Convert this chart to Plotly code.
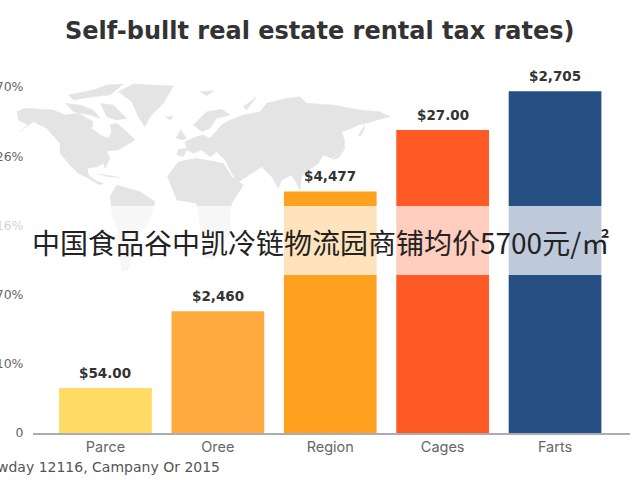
import plotly.graph_objects as go

categories = ["Parce", "Oree", "Region", "Cages", "Farts"]
values = [6.5, 17.6, 34.9, 43.8, 49.4]
value_labels = ["$54.00", "$2,460", "$4,477", "$27.00", "$2,705"]
bar_colors = ["#FFDB66", "#FFAB40", "#FFA01E", "#FF5A26", "#264F83"]
tick_vals = [0, 10, 20, 30, 40, 50]
tick_text = ["0", "10%", "70%", "16%", "26%", "70%"]

title_text = "Self-bullt real estate rental tax rates)"
overlay_text = "中国食品谷中凯冷链物流园商铺均价5700元/㎡"
source_text = "wday 12116, Campany Or 2015"

# Background world map outlines: (west group, east group), in map units
west_map = {
    "north_america": ([20, 45, 90, 130, 165, 205, 250, 245, 270, 295, 305, 300, 320, 350, 375, 350, 325, 290, 300, 285, 280, 262, 232, 235, 262, 280, 268, 235, 205, 180, 150, 150, 110, 70, 30, 55, 25],
                      [125, 115, 118, 120, 135, 130, 155, 175, 195, 205, 185, 165, 160, 185, 210, 225, 240, 243, 265, 295, 280, 290, 295, 315, 335, 340, 345, 325, 310, 285, 250, 220, 175, 155, 185, 165, 150]),
    "arctic_a": ([165, 210, 250, 270, 240, 190], [100, 105, 120, 145, 135, 125]),
    "arctic_b": ([175, 250, 290, 340, 300, 250, 190], [75, 60, 45, 42, 75, 80, 90]),
    "arctic_c": ([270, 310, 350, 320, 290], [100, 105, 145, 150, 140]),
    "greenland": ([325, 370, 490, 460, 420, 405, 385, 365], [65, 42, 48, 100, 140, 170, 140, 95]),
    "iceland": ([465, 490, 480], [140, 140, 150]),
    "cuba": ([265, 330, 290], [312, 322, 320]),
    "south_america": ([300, 320, 390, 435, 420, 390, 355, 335, 325, 305], [380, 345, 365, 395, 450, 490, 600, 605, 490, 430]),
}
east_map = {
    "eurasia": ([50, 55, 80, 75, 110, 130, 150, 185, 210, 250, 300, 320, 380, 420, 440, 520, 600, 660, 690, 650, 620, 595, 575, 545, 555, 545, 515, 490, 475, 440, 425, 420, 410, 395, 365, 355, 335, 305, 275, 232, 210, 195, 170, 150, 125, 100, 80, 70],
                [255, 238, 235, 215, 200, 195, 205, 165, 150, 135, 125, 100, 85, 80, 100, 105, 120, 125, 140, 150, 160, 165, 175, 185, 215, 245, 265, 255, 280, 305, 320, 360, 340, 315, 330, 355, 320, 290, 310, 338, 300, 270, 245, 260, 240, 250, 240, 260]),
    "scandinavia": ([100, 140, 185, 210, 170, 150, 125], [165, 125, 118, 135, 145, 175, 185]),
    "britain": ([48, 62, 80, 65], [205, 180, 205, 210]),
    "svalbard": ([120, 160, 140], [65, 62, 78]),
    "novaya": ([250, 290, 260], [110, 80, 120]),
    "japan": ([515, 550, 550, 555, 535], [270, 240, 215, 235, 265]),
    "kamchatka": ([595, 615, 610, 600], [195, 165, 185, 200]),
    "africa": ([22, 55, 110, 190, 215, 250, 215, 210, 210, 160, 135, 120, 110, 50], [320, 275, 265, 280, 320, 345, 400, 430, 490, 570, 565, 470, 400, 390]),
}
west_origin = (30, 210)
east_origin = (480, 210)

fig = go.Figure()
for group, (ox, oy) in ((west_map, west_origin), (east_map, east_origin)):
    for name, (mx, my) in group.items():
        fig.add_trace(go.Scatter(x=[v + ox for v in mx], y=[v + oy for v in my], mode="lines", fill="toself",
                                 fillcolor="#E4E4E4", line=dict(color="#E4E4E4", width=0.5), hoverinfo="skip",
                                 showlegend=False, name=name, xaxis="x", yaxis="y"))

fig.add_trace(go.Bar(x=categories, y=values, marker=dict(color=bar_colors, line=dict(width=0)),
                     showlegend=False, xaxis="x2", yaxis="y2"))

annotations = [
    dict(x=c, y=v, xref="x2", yref="y2", text=f"<b>{t}</b>", showarrow=False, yanchor="bottom", yshift=5,
         font=dict(family="DejaVu Sans", size=13.5, color="#333333"))
    for c, v, t in zip(categories, values, value_labels)
]
annotations += [
    dict(x=320 * 3, y=31 * 3, xref="x", yref="y", text=f"<b>{title_text}</b>", showarrow=False,
         font=dict(family="DejaVu Sans", size=24, color="#333333")),
    dict(x=222 * 3, y=467 * 3, xref="x", yref="y", text=source_text, showarrow=False, xanchor="right",
         font=dict(family="DejaVu Sans", size=14, color="#555555")),
    dict(x=320 * 3, y=242 * 3, xref="x", yref="y", text=overlay_text, showarrow=False,
         font=dict(family="Noto Sans CJK SC", size=28, color="#222222")),
]

fig.update_layout(
    width=640, height=480, margin=dict(l=0, r=0, t=0, b=0, autoexpand=False), paper_bgcolor="white", plot_bgcolor="rgba(0,0,0,0)",
    bargap=0.175, annotations=annotations,
    xaxis=dict(domain=[0, 1], range=[0, 1920], visible=False, fixedrange=True),
    yaxis=dict(domain=[0, 1], range=[1440, 0], visible=False, fixedrange=True),
    xaxis2=dict(domain=[33 / 640, 630 / 640], anchor="y2", range=[-0.645, 4.667], showgrid=False, showline=True,
                linecolor="#A9ADB3", linewidth=1.5, ticks="", tickfont=dict(family="Inter", size=14.5, color="#666666")),
    yaxis2=dict(domain=[47 / 480, 420 / 480], anchor="x2", range=[0, 53.9], showgrid=False, zeroline=False, showline=False,
                tickvals=tick_vals, ticktext=tick_text, ticks="outside", ticklen=6, tickcolor="rgba(0,0,0,0)",
                tickfont=dict(family="DejaVu Sans", size=12.5, color="#666666")),
    shapes=[dict(type="rect", xref="paper", yref="paper", x0=0, x1=1, y0=1 - 275 / 480, y1=1 - 206 / 480,
                 fillcolor="rgba(255,255,255,0.7)", line=dict(width=0), layer="above")],
)
fig.write_html("out.html", post_script="document.body.style.margin='0';", config=dict(displayModeBar=False))
